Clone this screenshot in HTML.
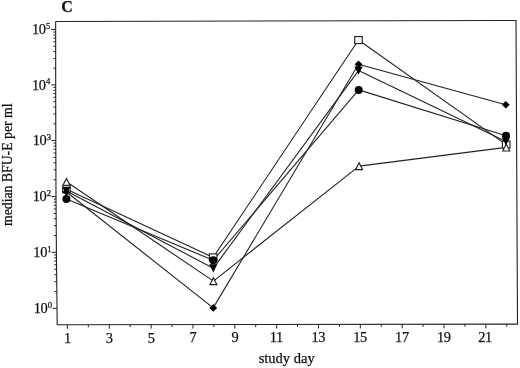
<!DOCTYPE html><html><head><meta charset="utf-8"><title>C</title><style>html,body{margin:0;padding:0;background:#fff}svg{display:block}text{font-family:"Liberation Serif","Times New Roman",serif;fill:#111;stroke:#111;stroke-width:0.25px}</style></head><body>
<svg width="520" height="368" viewBox="0 0 520 368">
<rect width="520" height="368" fill="#fff"/>
<polyline points="55.65,21.5 55.7,85 55.8,140 56.0,196 56.4,252 57.0,308 57.2,324.8 517.5,324.15 516.0,20.45 55.65,21.5" fill="none" stroke="#222" stroke-width="1.1" stroke-linejoin="miter"/>
<path d="M57.00,308.40h-4.4 M56.82,291.54h-2.3 M56.72,281.68h-2.3 M56.64,274.68h-2.3 M56.58,269.26h-2.3 M56.54,264.82h-2.3 M56.50,261.07h-2.3 M56.46,257.83h-2.3 M56.43,254.96h-2.3 M56.40,252.40h-4.4 M56.28,235.59h-2.3 M56.21,225.76h-2.3 M56.16,218.78h-2.3 M56.12,213.37h-2.3 M56.09,208.95h-2.3 M56.07,205.21h-2.3 M56.04,201.97h-2.3 M56.02,199.12h-2.3 M56.00,196.56h-4.4 M55.94,179.70h-2.3 M55.91,169.84h-2.3 M55.88,162.84h-2.3 M55.86,157.42h-2.3 M55.85,152.98h-2.3 M55.83,149.23h-2.3 M55.82,145.99h-2.3 M55.81,143.12h-2.3 M55.80,140.56h-4.4 M55.77,123.80h-2.3 M55.75,114.00h-2.3 M55.74,107.05h-2.3 M55.73,101.66h-2.3 M55.72,97.25h-2.3 M55.72,93.52h-2.3 M55.71,90.29h-2.3 M55.70,87.45h-2.3 M55.70,84.90h-4.4 M55.69,68.24h-2.3 M55.68,58.50h-2.3 M55.67,51.58h-2.3 M55.67,46.22h-2.3 M55.67,41.84h-2.3 M55.66,38.13h-2.3 M55.66,34.92h-2.3 M55.66,32.09h-2.3 M55.66,29.56h-4.4 M67.40,324.79v4 M88.32,324.76v2.5 M109.25,324.73v4 M130.17,324.70v2.5 M151.10,324.67v4 M172.02,324.64v2.5 M192.94,324.61v4 M213.87,324.58v2.5 M234.79,324.55v4 M255.71,324.52v2.5 M276.64,324.49v4 M297.56,324.46v2.5 M318.49,324.43v4 M339.41,324.40v2.5 M360.33,324.37v4 M381.26,324.34v2.5 M402.18,324.31v4 M423.10,324.28v2.5 M444.03,324.25v4 M464.95,324.22v2.5 M485.88,324.19v4 M506.80,324.17v2.5" stroke="#222" stroke-width="1" fill="none"/>
<text x="33.65" y="313.1" font-size="14.4" letter-spacing="-0.3">10</text>
<text x="47.65" y="307.6" font-size="8.6">0</text>
<text x="33.30" y="257.1" font-size="14.4" letter-spacing="-0.3">10</text>
<text x="47.30" y="251.6" font-size="8.6">1</text>
<text x="32.65" y="201.3" font-size="14.4" letter-spacing="-0.3">10</text>
<text x="46.65" y="195.8" font-size="8.6">2</text>
<text x="32.65" y="145.3" font-size="14.4" letter-spacing="-0.3">10</text>
<text x="46.65" y="139.8" font-size="8.6">3</text>
<text x="31.95" y="89.6" font-size="14.4" letter-spacing="-0.3">10</text>
<text x="45.95" y="84.1" font-size="8.6">4</text>
<text x="31.95" y="34.3" font-size="14.4" letter-spacing="-0.3">10</text>
<text x="45.95" y="28.8" font-size="8.6">5</text>
<text x="67.6" y="342.70" font-size="14.4" text-anchor="middle">1</text>
<text x="109.4" y="342.62" font-size="14.4" text-anchor="middle">3</text>
<text x="151.3" y="342.55" font-size="14.4" text-anchor="middle">5</text>
<text x="193.1" y="342.48" font-size="14.4" text-anchor="middle">7</text>
<text x="235.0" y="342.40" font-size="14.4" text-anchor="middle">9</text>
<text x="276.3" y="342.33" font-size="14.4" text-anchor="middle" letter-spacing="-0.4">11</text>
<text x="318.2" y="342.25" font-size="14.4" text-anchor="middle" letter-spacing="-0.4">13</text>
<text x="360.0" y="342.18" font-size="14.4" text-anchor="middle" letter-spacing="-0.4">15</text>
<text x="401.9" y="342.10" font-size="14.4" text-anchor="middle" letter-spacing="-0.4">17</text>
<text x="443.7" y="342.03" font-size="14.4" text-anchor="middle" letter-spacing="-0.4">19</text>
<text x="485.0" y="341.95" font-size="14.4" text-anchor="middle" letter-spacing="-0.4">21</text>
<text x="286.7" y="362.5" font-size="14.5" text-anchor="middle">study day</text>
<text transform="translate(12.35,226) rotate(-90)" font-size="15.5" textLength="122.5" lengthAdjust="spacingAndGlyphs">median BFU-E per ml</text>
<text x="61.15" y="12.45" font-size="16" font-weight="bold">C</text>
<polyline points="66.45,189.25 213.2,257.4 358.5,40.05 506.2,144.6" fill="none" stroke="#222" stroke-width="1.1" stroke-linejoin="round"/>
<polyline points="66.45,192.0 213.2,307.9 358.5,64.2 505.8,104.7" fill="none" stroke="#222" stroke-width="1.1" stroke-linejoin="round"/>
<polyline points="66.45,190.9 213.3,268.3 358.5,70.6 506.0,141.4" fill="none" stroke="#222" stroke-width="1.1" stroke-linejoin="round"/>
<polyline points="66.45,199.1 213.3,260.3 358.7,89.9 506.0,135.7" fill="none" stroke="#222" stroke-width="1.1" stroke-linejoin="round"/>
<polyline points="66.45,181.7 213.4,281.1 359.1,166.1 506.2,147.4" fill="none" stroke="#222" stroke-width="1.1" stroke-linejoin="round"/>
<rect x="62.70" y="185.75" width="7.5" height="7.0" fill="#fff" stroke="#222" stroke-width="1.15"/>
<rect x="209.45" y="253.90" width="7.5" height="7.0" fill="#fff" stroke="#222" stroke-width="1.15"/>
<rect x="354.75" y="36.55" width="7.5" height="7.0" fill="#fff" stroke="#222" stroke-width="1.15"/>
<rect x="502.45" y="141.10" width="7.5" height="7.0" fill="#fff" stroke="#222" stroke-width="1.15"/>
<polygon points="66.45,178.40 69.95,185.25 62.95,185.25" fill="#fff" stroke="#222" stroke-width="1.15" stroke-linejoin="miter"/>
<polygon points="213.40,277.80 216.90,284.65 209.90,284.65" fill="#fff" stroke="#222" stroke-width="1.15" stroke-linejoin="miter"/>
<polygon points="359.10,162.80 362.60,169.65 355.60,169.65" fill="#fff" stroke="#222" stroke-width="1.15" stroke-linejoin="miter"/>
<polygon points="506.20,144.10 509.70,150.95 502.70,150.95" fill="#fff" stroke="#222" stroke-width="1.15" stroke-linejoin="miter"/>
<polygon points="66.45,188.20 70.35,192.0 66.45,195.80 62.55,192.0" fill="#000"/>
<polygon points="213.2,304.10 217.10,307.9 213.2,311.70 209.30,307.9" fill="#000"/>
<polygon points="358.5,60.40 362.40,64.2 358.5,68.00 354.60,64.2" fill="#000"/>
<polygon points="505.8,100.90 509.70,104.7 505.8,108.50 501.90,104.7" fill="#000"/>
<polygon points="62.35,186.90 70.55,186.90 66.45,195.10" fill="#000"/>
<polygon points="209.20,264.30 217.40,264.30 213.3,272.50" fill="#000"/>
<polygon points="354.40,66.60 362.60,66.60 358.5,74.80" fill="#000"/>
<polygon points="501.90,137.40 510.10,137.40 506.0,145.60" fill="#000"/>
<circle cx="66.45" cy="199.1" r="4" fill="#000"/>
<circle cx="213.3" cy="260.3" r="4" fill="#000"/>
<circle cx="358.7" cy="89.9" r="4" fill="#000"/>
<circle cx="506.0" cy="135.7" r="4" fill="#000"/>
</svg></body></html>
